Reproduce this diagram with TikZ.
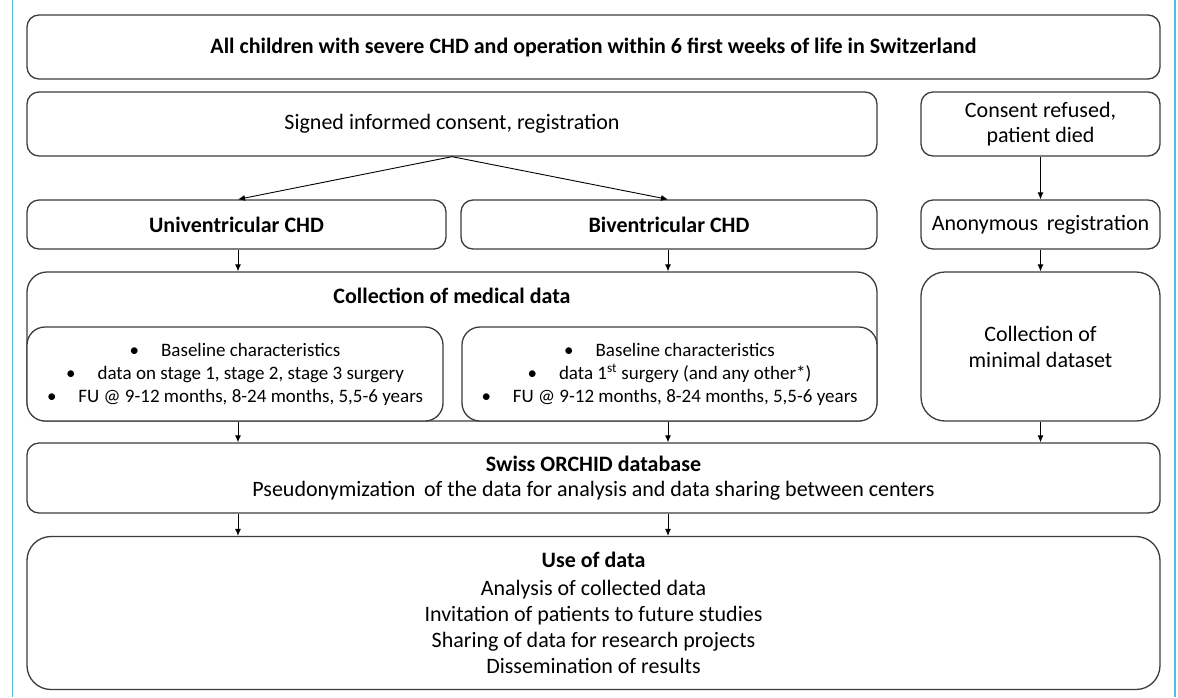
\documentclass[tikz,border=0pt]{standalone}
\usepackage{fontspec}
\setmainfont{Carlito}
\usetikzlibrary{arrows.meta}
\definecolor{edge}{RGB}{60,60,60}
\definecolor{cyanline}{RGB}{80,190,220}
\begin{document}
\begin{tikzpicture}[x=1pt,y=-1pt,
  box/.style={draw=edge,line width=1.3pt,rounded corners=12pt,fill=white,inner sep=0pt,align=center,font=\fontsize{22}{26}\selectfont},
  bigbox/.style={box,rounded corners=24pt},
  listbox/.style={box,rounded corners=18pt,font=\fontsize{19}{23}\selectfont},
  txt/.style={inner sep=0pt,align=center,font=\fontsize{22}{26}\selectfont},
  arr/.style={-{Latex[length=7pt,width=6pt]},line width=0.9pt,draw=black}
]
\useasboundingbox[fill=white] (0,0) rectangle (1178,697);
\draw[cyanline,line width=1.5pt] (12.5,0) -- (12.5,697);
\draw[cyanline,line width=1.5pt] (1175,0) -- (1175,697);

\node[box,minimum width=1133pt,minimum height=64pt] (top) at (593.5,47) {\textbf{All children with severe CHD and operation within 6 first weeks of life in Switzerland}};
\node[box,minimum width=850pt,minimum height=64pt] (sign) at (452,124) {Signed informed consent, registration};
\node[box,minimum width=239pt,minimum height=64pt] (refused) at (1040.5,124) {Consent refused,\\[-1pt]patient died};
\node[box,minimum width=419pt,minimum height=49pt] (uni) at (236.5,224.5) {\textbf{Univentricular CHD}};
\node[box,minimum width=416pt,minimum height=49pt] (bi) at (669,224.5) {\textbf{Biventricular CHD}};
\node[box,minimum width=239pt,minimum height=49pt] (anon) at (1040.5,224.5) {Anonymous\, registration};

\node[box,rounded corners=20pt,minimum width=850pt,minimum height=149pt] (coll) at (452,346.5) {};
\node[txt] (colltitle) at (452,296) {\textbf{Collection of medical data}};
\node[listbox,minimum width=416pt,minimum height=94pt] (collL) at (235,374)
 {\textbullet\hspace{22pt}Baseline characteristics\\
  \textbullet\hspace{22pt}data on stage 1, stage 2, stage 3 surgery\\
  \textbullet\hspace{22pt}FU @ 9-12 months, 8-24 months, 5,5-6 years};
\node[listbox,minimum width=415pt,minimum height=94pt] (collR) at (669.5,374)
 {\textbullet\hspace{22pt}Baseline characteristics\\
  \textbullet\hspace{22pt}data 1\textsuperscript{st} surgery (and any other*)\\
  \textbullet\hspace{22pt}FU @ 9-12 months, 8-24 months, 5,5-6 years};
\node[bigbox,minimum width=239pt,minimum height=149pt] (minimal) at (1040.5,346.5) {Collection of\\minimal dataset};

\node[box,minimum width=1133pt,minimum height=70pt] (swiss) at (593.5,478) {\textbf{Swiss ORCHID database}\\[-1pt]Pseudonymization\, of the data for analysis and data sharing between centers};
\node[bigbox,minimum width=1133pt,minimum height=153pt] (use) at (593.5,613) {\textbf{Use of data}\\[1.5pt]Analysis of collected data\\Invitation of patients to future studies\\Sharing of data for research projects\\Dissemination of results};

\draw[arr] (sign.south) -- ([xshift=1.5pt]uni.north);
\draw[arr] (sign.south) -- ([xshift=-1pt]bi.north);
\draw[arr] (refused.south) -- (anon.north);
\draw[arr] ([xshift=1.5pt]uni.south) -- ([xshift=1.5pt]uni.south |- coll.north);
\draw[arr] ([xshift=-1pt]bi.south) -- ([xshift=-1pt]bi.south |- coll.north);
\draw[arr] (anon.south) -- (minimal.north);
\draw[arr] ([xshift=1.5pt]uni.south |- collL.south) -- ([xshift=1.5pt]uni.south |- swiss.north);
\draw[arr] ([xshift=-1pt]bi.south |- collR.south) -- ([xshift=-1pt]bi.south |- swiss.north);
\draw[arr] (minimal.south) -- (minimal.south |- swiss.north);
\draw[arr] ([xshift=1.5pt]uni.south |- swiss.south) -- ([xshift=1.5pt]uni.south |- use.north);
\draw[arr] ([xshift=-1pt]bi.south |- swiss.south) -- ([xshift=-1pt]bi.south |- use.north);
\end{tikzpicture}
\end{document}
